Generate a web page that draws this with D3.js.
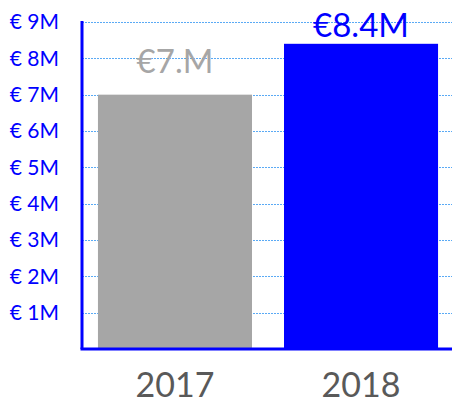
<!DOCTYPE html>
<html>
<head>
<meta charset="utf-8">
<script src="https://cdn.jsdelivr.net/npm/d3@7"></script>
<style>
  body { margin: 0; background: #fff; }
  text { font-family: Lato, "Open Sans", sans-serif; }
</style>
</head>
<body>
<div id="chart"></div>
<script>
const WIDTH = 452;
const HEIGHT = 406;
const MARGIN = { TOP: 22, RIGHT: 0, BOTTOM: 57, LEFT: 82 };
const LABEL_GAP = [22, 7];

// data
var years = ["2017", "2018"];
var revenue = [7.0, 8.4];
var valueLabels = ["€7.M", "€8.4M"];
var barColors = ["#a6a6a6", "#0000ff"];
var tickValues = [1, 2, 3, 4, 5, 6, 7, 8, 9];

var svg = d3.select("div#chart").append("svg")
    .attr("width", WIDTH)
    .attr("height", HEIGHT);

var x = d3.scaleBand(years, [MARGIN.LEFT + 2, WIDTH])
    .paddingInner(0.172)
    .paddingOuter(0.075);
var y = d3.scaleLinear([0, 9], [HEIGHT - MARGIN.BOTTOM, MARGIN.TOP]);

// gridlines
svg.append("g")
    .attr("class", "grid")
    .selectAll("line")
    .data(tickValues)
    .join("line")
    .attr("x1", MARGIN.LEFT)
    .attr("x2", WIDTH - MARGIN.RIGHT)
    .attr("y1", d => Math.round(y(d)) + 0.5)
    .attr("y2", d => Math.round(y(d)) + 0.5)
    .attr("stroke", "#5aaaf5")
    .attr("stroke-width", 1)
    .attr("stroke-dasharray", "2,1");

// bars
svg.append("g")
    .selectAll("rect")
    .data(years)
    .join("rect")
    .attr("x", d => x(d))
    .attr("width", x.bandwidth())
    .attr("y", (d, i) => y(revenue[i]))
    .attr("height", (d, i) => y(0) - y(revenue[i]))
    .attr("fill", (d, i) => barColors[i]);

// value labels
svg.append("g")
    .selectAll("text")
    .data(years)
    .join("text")
    .attr("x", d => x(d) + x.bandwidth() / 2)
    .attr("y", (d, i) => y(revenue[i]) - LABEL_GAP[i])
    .attr("text-anchor", "middle")
    .attr("font-size", "33px")
    .attr("fill", (d, i) => barColors[i])
    .text((d, i) => valueLabels[i]);

// y axis
var yAxis = svg.append("g")
    .attr("transform", `translate(${MARGIN.LEFT},0)`)
    .call(d3.axisLeft(y)
        .tickValues(tickValues)
        .tickSize(0)
        .tickPadding(23)
        .tickFormat(d => "€ " + d + "M"));
yAxis.select(".domain")
    .attr("stroke", "#0000ff")
    .attr("stroke-width", 3)
    .attr("d", `M0,${y(0)}V${MARGIN.TOP - 1}`);
yAxis.selectAll("text")
    .attr("fill", "#0000ff")
    .attr("font-size", "21px")
    .attr("font-family", "Lato, 'Open Sans', sans-serif");

// x axis
var xAxis = svg.append("g")
    .attr("transform", `translate(0,${y(0)})`)
    .call(d3.axisBottom(x).tickSize(0).tickPadding(24));
xAxis.select(".domain")
    .attr("stroke", "#0000ff")
    .attr("stroke-width", 3)
    .attr("d", `M${MARGIN.LEFT - 1.5},0H${WIDTH}`);
xAxis.selectAll("text")
    .attr("fill", "#595959")
    .attr("font-size", "34px")
    .attr("font-family", "Lato, 'Open Sans', sans-serif");
</script>
</body>
</html>
